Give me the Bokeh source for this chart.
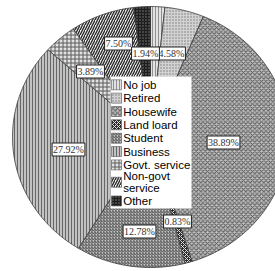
import numpy as np
from bokeh.plotting import figure
from bokeh.models import ColumnDataSource, Range1d
from bokeh.embed import file_html
from bokeh.resources import INLINE
from bokeh.core.properties import value

# ---- data ----
categories = ["No job", "Retired", "Housewife", "Land loard", "Student",
              "Business", "Govt. service", "Non-govt service", "Other"]
legend_text = ["No job", "Retired", "Housewife", "Land loard", "Student",
               "Business", "Govt. service", "Non-govt\nservice", "Other"]
percent = [1.67, 4.58, 38.89, 0.83, 12.78, 27.92, 3.89, 7.50, 1.94]
shown_label = [False, True, True, True, True, True, True, True, True]

# ---- styles ----
fills = ["#e2e2e2", "#d2d2d2", "#c0c0c0", "#2a2a2a", "#c4c4c4",
         "#c2c2c2", "#e2e2e2", "#f4f4f4", "#1e1e1e"]
hatches = ["|", ".", "x", "x", "/", "|", "+", "/", "."]
hatch_colors = ["#909090", "#7a7a7a", "#555555", "#e0e0e0", "#505050",
                "#666666", "#5a5a5a", "#2a2a2a", "#808080"]
hatch_scales = [3, 3, 4.5, 4, 3, 3, 4, 5, 3]
hatch_weights = [1, 1, 1, 1, 1, 1, 1, 1.4, 1]

W, H = 275, 271
# label placement (screen units inside the frame, y measured from top)
label_pos = [(0, 0), (171, 53), (223, 142), (177, 221), (139, 231),
             (68, 149), (90, 71), (118, 43), (145, 53)]
cx, cy, rx, ry = 150, H - 136.5, 138, 130.5

p = figure(width=W, height=H, output_backend="svg", toolbar_location=None,
           x_range=Range1d(0, W), y_range=Range1d(0, H), min_border=0)
p.axis.visible = False
p.grid.visible = False
p.outline_line_color = None
p.background_fill_color = "white"
p.border_fill_color = "white"

total = sum(percent)
cum = np.concatenate([[0], np.cumsum(percent)]) / total * 2 * np.pi
xs, ys = [], []
for i in range(len(percent)):
    n = max(4, int((cum[i + 1] - cum[i]) * 80))
    t = np.linspace(cum[i], cum[i + 1], n)
    xs.append([cx] + list(cx + rx * np.sin(t)))
    ys.append([cy] + list(cy + ry * np.cos(t)))

src = ColumnDataSource(dict(xs=xs, ys=ys, fill=fills, hatch=hatches,
                            hc=hatch_colors, hs=hatch_scales, hw=hatch_weights))
p.patches("xs", "ys", source=src, fill_color="fill", hatch_pattern="hatch",
          hatch_color="hc", hatch_scale="hs", hatch_weight="hw",
          line_color="#3a3a3a", line_width=0.8)

# percentage labels
lx = [label_pos[i][0] for i in range(len(percent)) if shown_label[i]]
ly = [H - label_pos[i][1] for i in range(len(percent)) if shown_label[i]]
lt = ["%.2f%%" % percent[i] for i in range(len(percent)) if shown_label[i]]
p.text(x=lx, y=ly, text=lt, text_font=value("Liberation Serif"),
       text_font_size="10px", text_color="#333333", text_align="center",
       text_baseline="middle", background_fill_color="white",
       border_line_color="#222222", border_line_width=1, padding=1)

# legend box
p.quad(left=[110], right=[191], bottom=[H - 208], top=[H - 76],
       fill_color="white", line_color=None)
k = [0, 1, 2, 3, 4, 5, 6, 7.3, 8.7]
row_y = [H - (84.3 + 13.35 * kk) for kk in k]
lsrc = ColumnDataSource(dict(x=[116] * 9, y=row_y, fill=fills, hatch=hatches,
                             hc=hatch_colors, hs=hatch_scales, hw=hatch_weights,
                             tx=[122.7] * 9, label=legend_text))
p.rect("x", "y", width=10, height=10, source=lsrc, fill_color="fill",
       hatch_pattern="hatch", hatch_color="hc", hatch_scale="hs",
       hatch_weight="hw", line_color="#555555", line_width=0.6)
p.text("tx", "y", text="label", source=lsrc, text_font=value("Liberation Sans"),
       text_font_size="11.5px", text_color="black", text_baseline="middle",
       text_line_height=0.98)

open("out.html", "w").write(file_html(p, INLINE))
